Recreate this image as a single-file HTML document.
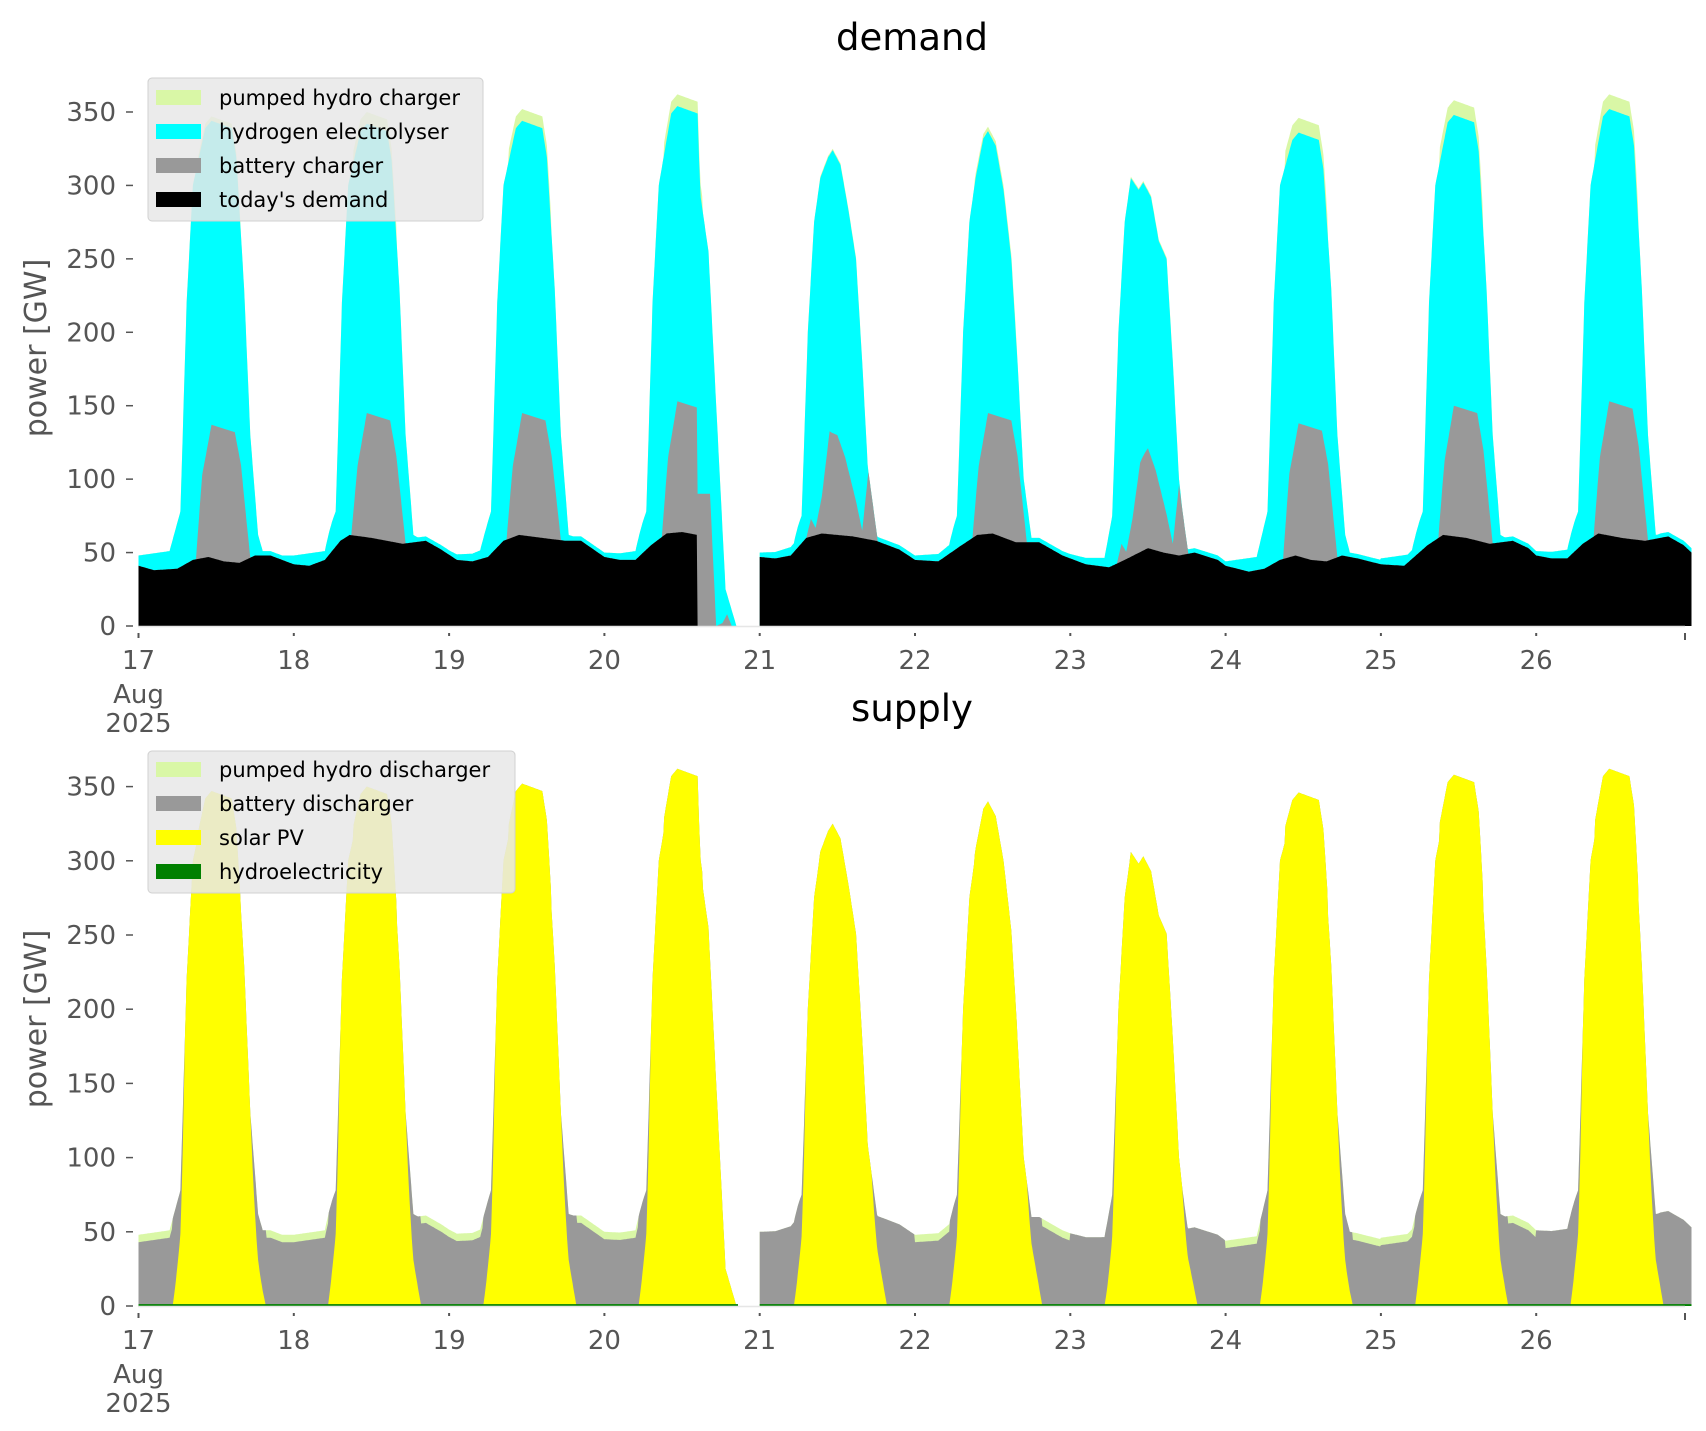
<!DOCTYPE html>
<html><head><meta charset="utf-8"><style>
html,body{margin:0;padding:0;background:#fff}
svg{display:block}
text{font-family:"DejaVu Sans","Liberation Sans",sans-serif}
</style></head><body>
<svg id="s" width="1706" height="1431" xmlns="http://www.w3.org/2000/svg">
<rect width="1706" height="1431" fill="#fff"/>
<g id="plots"></g>
<text x="912" y="50" font-size="37" text-anchor="middle" fill="#000">demand</text>
<text x="912" y="721" font-size="37" text-anchor="middle" fill="#000">supply</text>
<g id="axes" fill="#555" font-size="26"></g>
<text transform="translate(46,348) rotate(-90)" font-size="30" text-anchor="middle" fill="#555">power [GW]</text>
<text transform="translate(46,1019) rotate(-90)" font-size="30" text-anchor="middle" fill="#555">power [GW]</text>
<g font-size="21" fill="#000">
<rect x="148" y="78" width="335" height="143" rx="4" fill="#e8e8e8" fill-opacity="0.85" stroke="#d0d0d0"/>
<rect x="156" y="90" width="45" height="15" fill="#d9f7a6"/><text x="219" y="105">pumped hydro charger</text>
<rect x="156" y="124" width="45" height="15" fill="#00ffff"/><text x="219" y="139">hydrogen electrolyser</text>
<rect x="156" y="158" width="45" height="15" fill="#999"/><text x="219" y="173">battery charger</text>
<rect x="156" y="192" width="45" height="15" fill="#000"/><text x="219" y="207">today's demand</text>
<rect x="148" y="751" width="367" height="142" rx="4" fill="#e8e8e8" fill-opacity="0.85" stroke="#d0d0d0"/>
<rect x="156" y="762" width="45" height="15" fill="#d9f7a6"/><text x="219" y="777">pumped hydro discharger</text>
<rect x="156" y="796" width="45" height="15" fill="#999"/><text x="219" y="811">battery discharger</text>
<rect x="156" y="830" width="45" height="15" fill="#ffff00"/><text x="219" y="845">solar PV</text>
<rect x="156" y="864" width="45" height="15" fill="#008000"/><text x="219" y="879">hydroelectricity</text>
</g>
</svg>
<script>
(function(){
var NS="http://www.w3.org/2000/svg";
var X0=138.5,DX=155.3;
function X(t){return X0+t*DX;}
var black=[[0,41],[0.1,38],[0.25,39],[0.35,45],[0.45,47],[0.55,44],[0.65,43],[0.75,48],[0.85,48],[1.0,42],[1.1,41],[1.2,45],[1.3,58],[1.36,62],[1.5,60],[1.7,56],[1.85,58],[1.95,52],[2.05,45],[2.15,44],[2.25,47],[2.35,58],[2.45,62],[2.6,60],[2.75,58],[2.85,58],[3.0,47],[3.1,45],[3.2,45],[3.3,55],[3.4,63],[3.5,64],[3.6,62],
[4.0,47],[4.1,46],[4.2,48],[4.3,60],[4.4,63],[4.6,61],[4.75,58],[4.9,52],[5.0,45],[5.15,44],[5.3,55],[5.4,62],[5.5,63],[5.65,57],[5.8,57],[5.95,48],[6.1,42],[6.25,40],[6.35,45],[6.5,53],[6.6,50],[6.7,48],[6.8,50],[6.95,45],[7.0,41],[7.15,37],[7.25,39],[7.35,45],[7.45,48],[7.55,45],[7.65,44],[7.75,48],[7.85,46],[8.0,42],[8.15,41],[8.3,55],[8.4,62],[8.55,60],[8.7,56],[8.85,58],[8.95,53],[9.0,48],[9.1,46],[9.2,46],[9.3,56],[9.4,63],[9.55,60],[9.7,58],[9.85,61],[9.95,55],[10,50]];
function interp(arr,t){if(t<=arr[0][0])return arr[0][1];for(var i=1;i<arr.length;i++){if(t<=arr[i][0]){var a=arr[i-1],b=arr[i];return a[1]+(b[1]-a[1])*(t-a[0])/(b[0]-a[0]);}}return arr[arr.length-1][1];}
var P=[347,350,352,362,325,340,303,346,358,362];
var B=[137,145,145,153,130,145,121,138,150,153];
var PH=[3,8,8,8,1,3,1,10,10,10];
var night=[48,48,47,47,46,44,43,44,46,47];
function dayShape(f,d,n){
  var p=P[d],q=p-PH[d],k;
  if(d>=4&&d<=6){
    k=[[0,n],[0.22,n+3],[0.27,75],[0.31,200],[0.35,275],[0.39,305],[0.44,q-5],[0.47,q],[0.52,q-10],[0.57,q-40],[0.62,250],[0.66,180],[0.7,100],[0.75,n],[1,n]];
  } else {
    k=[[0,n],[0.2,n+3],[0.27,78],[0.31,220],[0.35,300],[0.43,q-5],[0.47,q],[0.6,q-5],[0.63,q-25],[0.68,230],[0.72,130],[0.77,62],[0.8,n],[1,n]];
  }
  return interp(k,f);
}
function batShape(f,d,bl){
  var b=B[d];
  var k=[[0,0],[0.37,0],[0.41,0.75*b-bl],[0.47,b-bl],[0.62,b-5-bl],[0.66,0.8*b-bl],[0.72,0],[1,0]];
  if(d==4||d==6){k=[[0,0],[0.3,0],[0.33,12],[0.36,5],[0.4,25],[0.45,b-60],[0.5,b-bl],[0.55,b-bl-15],[0.62,b-bl-45],[0.66,b-bl-65],[0.7,b-bl-25],[0.76,0],[1,0]];}
  return Math.max(0,interp(k,f));
}
var N=2000,data=[];
for(var i=0;i<=N;i++){
  var t=10*i/N,d=Math.min(9,Math.floor(t)),f=t-d;
  var bl=interp(black,t);
  var n=Math.max(bl+3,night[d]);
  var tot=dayShape(f,d,n);
  var bat=bl+batShape(f,d,bl);
  var ph=(f>0.38&&f<0.66)?PH[d]:0;
  var phd=(f<0.22||f>0.82)?((d==0||d==1||d==2||d==3||d==5||d==7||d==8)?5:0):0;
  var gap=false;
  if(d==3){
    if(f>0.6){bl=0;
      bat=interp([[0.6,90],[0.68,90],[0.72,0],[0.76,2],[0.79,8],[0.82,0],[1,0]],f);
      tot=interp([[0.6,tot],[0.62,292],[0.67,255],[0.72,150],[0.78,25],[0.85,0],[1,0]],f);
      ph=(f<0.63)?8:0; phd=0; }
    if(f>0.86) gap=true;
  }
  if(bat<bl)bat=bl;
  if(tot<bat)tot=bat;
  var total=tot+ph;
  var sol=0;
  if(f>0.22&&f<0.82){ if(f<0.3)sol=total*(f-0.22)/0.08; else if(f<0.72)sol=total; else sol=total*(0.82-f)/0.1; }
  if(d==3&&f>0.6)sol=total;
  var hyd=1.3;
  data.push({t:t,bl:bl,bat:bat,cy:tot,ph:total,sol:Math.min(sol,total),phd:phd,hyd:hyd,gap:gap});
}
function yT(v){return 626-v*1.4686;}
function yB(v){return 1306-v*1.484;}
var g=document.getElementById("plots");
function area(fn,yf,col){
  var segs=[],cur=[];
  data.forEach(function(p){ if(p.gap){ if(cur.length){segs.push(cur);cur=[];} } else cur.push(p); });
  if(cur.length)segs.push(cur);
  segs.forEach(function(s){
    var dstr="M"+X(s[0].t).toFixed(1)+","+yf(0);
    s.forEach(function(p){dstr+="L"+X(p.t).toFixed(1)+","+yf(fn(p)).toFixed(1);});
    dstr+="L"+X(s[s.length-1].t).toFixed(1)+","+yf(0)+"Z";
    var e=document.createElementNS(NS,"path");e.setAttribute("d",dstr);e.setAttribute("fill",col);g.appendChild(e);
  });
}
area(function(p){return p.ph;},yT,"#d9f7a6");
area(function(p){return p.cy;},yT,"#00ffff");
area(function(p){return p.bat;},yT,"#999999");
area(function(p){return p.bl;},yT,"#000000");
area(function(p){return p.ph;},yB,"#d9f7a6");
area(function(p){return p.ph-p.phd;},yB,"#999999");
area(function(p){return p.sol;},yB,"#ffff00");
area(function(p){return p.hyd;},yB,"#008000");
var ax=document.getElementById("axes");
function add(tag,attrs,txt){var e=document.createElementNS(NS,tag);for(var k in attrs)e.setAttribute(k,attrs[k]);if(txt!=null)e.textContent=txt;ax.appendChild(e);return e;}
[[626,yT],[1306,yB]].forEach(function(a){
  var z=a[0],yf=a[1];
  add("line",{x1:138,x2:1685,y1:z+0.5,y2:z+0.5,stroke:"#e6e6e6","stroke-width":1.5});
  for(var v=0;v<=350;v+=50){var y=yf(v);
    add("line",{x1:126,x2:133,y1:y,y2:y,stroke:"#555","stroke-width":1.5});
    add("text",{x:116,y:y+9,"text-anchor":"end"},String(v));}
  for(var d=0;d<=9;d++){var x=X(d);
    add("line",{x1:x,x2:x,y1:z+7,y2:z+(d==0?12:10),stroke:"#555","stroke-width":2});
    add("text",{x:x,y:z+43,"text-anchor":"middle"},String(17+d));}
  add("line",{x1:1685,x2:1685,y1:z+7,y2:z+14,stroke:"#555","stroke-width":2});
  add("text",{x:X(0),y:z+77,"text-anchor":"middle"},"Aug");
  add("text",{x:X(0),y:z+106,"text-anchor":"middle"},"2025");
});
})();
</script>
</body></html>
